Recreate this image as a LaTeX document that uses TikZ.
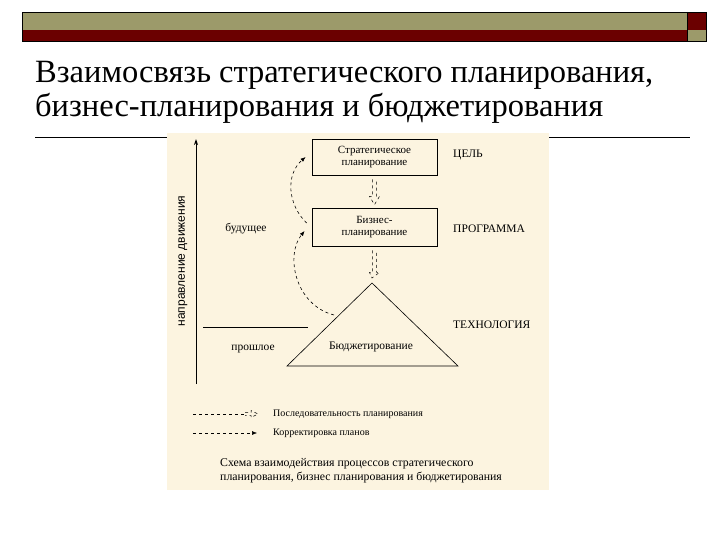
\documentclass[tikz,border=0pt]{standalone}
\usepackage{fontspec}
\setmainfont{Liberation Serif}
\newfontfamily\axisfont{Liberation Sans}
\usetikzlibrary{arrows.meta,calc}
\definecolor{olivebar}{HTML}{9C9A6A}
\definecolor{darkred}{HTML}{6B0000}
\definecolor{beige}{HTML}{FCF4E0}
\tikzset{
  boxnode/.style={draw,line width=0.8pt,minimum width=125pt,align=center,font=\fontsize{11}{12}\selectfont,inner sep=2pt},
  labtext/.style={font=\fontsize{11.5}{12}\selectfont,inner sep=0pt},
  legtext/.style={font=\fontsize{10}{11}\selectfont,anchor=west,inner sep=0pt},
  corr/.style={dashed,line width=0.6pt,-{Latex[length=5pt,width=4pt]}},
  blockarrow/.style={dashed,line width=0.5pt},
}
\begin{document}
\begin{tikzpicture}[x=1pt,y=-1pt]
\useasboundingbox (0,0) rectangle (720,540);
\fill[white] (0,0) rectangle (720,540);
% header bar
\fill[olivebar] (22,12) rectangle (687,30);
\fill[darkred] (22,30) rectangle (687,41);
\fill[darkred] (687,12) rectangle (706,30);
\fill[olivebar] (687,30) rectangle (706,41);
\draw[line width=0.6pt] (22,12) rectangle (706,41);
\draw[line width=0.6pt] (687,12) -- (687,41);
% title
\node[anchor=west,inner sep=0pt,font=\fontsize{32.5}{36}\selectfont] (t1) at (35,75) {Взаимосвязь стратегического планирования,};
\node[anchor=west,inner sep=0pt,font=\fontsize{32.5}{36}\selectfont] (t2) at (35,108) {бизнес-планирования и бюджетирования};
\draw[line width=0.7pt] (35,137) -- (690,137);
% diagram background
\fill[beige] (167,133) rectangle (549,490);
% axis
\coordinate (ax0) at (196,384);
\coordinate (ax1) at (196,139);
\draw[line width=1pt,-{Stealth[length=6pt,width=4pt]}] (ax0) -- (ax1);
\node[rotate=90,inner sep=0pt,font=\axisfont\fontsize{12}{12}\selectfont] (axl) at (183,261) {направление движения};
% boxes
\node[boxnode,minimum height=36pt] (s) at (374.5,157) {Стратегическое\\планирование};
\node[boxnode,minimum height=38pt] (b) at (374.5,227) {Бизнес-\\планирование};
% triangle
\coordinate (ta) at (372,283);
\coordinate (tl) at (287,366);
\coordinate (tr) at (458,366);
\draw[line width=0.6pt] (ta) -- (tl) -- (tr) -- cycle;
\node[labtext] (bud) at (371,347) {Бюджетирование};
% side labels
\node[labtext,anchor=west] (goal) at (453,155) {ЦЕЛЬ};
\node[labtext,anchor=west] (prog) at (453,229) {ПРОГРАММА};
\node[labtext,anchor=west] (tech) at (453,325) {ТЕХНОЛОГИЯ};
\node[labtext] (fut) at (246,229) {будущее};
\node[labtext] (past) at (253,349) {прошлое};
\coordinate (hl0) at (203,327);
\coordinate (hl1) at (308,327);
\draw[line width=0.8pt] (hl0) -- (hl1);
% planning sequence block arrows
\draw[blockarrow] ($(s.south)+(-2,4)$) -- ($(s.south)+(-2,21)$) -- ($(s.south)+(-5,21)$) -- ($(b.north)+(0,-3)$) -- ($(s.south)+(5,21)$) -- ($(s.south)+(2,21)$) -- ($(s.south)+(2,4)$);
\draw[blockarrow] ($(b.south)+(-2,4)$) -- ($(b.south)+(-2,26)$) -- ($(b.south)+(-5,26)$) -- ($(ta)+(0,-5)$) -- ($(b.south)+(5,26)$) -- ($(b.south)+(2,26)$) -- ($(b.south)+(2,4)$);
% correction arrows
\coordinate (c1) at (334,315);
\draw[corr] (c1) .. controls (295,305) and (285,255) .. ($(b.west)+(-7,4)$);
\draw[corr] ($(b.west)+(-5,-4)$) .. controls (288,205) and (285,175) .. ($(s.west)+(-6,0)$);
% legend
\coordinate (l1a) at (193,414);
\coordinate (l1b) at (245,414);
\draw[dashed,line width=0.5pt] (l1a) -- (l1b);
\draw[blockarrow] ($(l1b)+(0,-1.5)$) -- ($(l1b)+(6,-1.5)$) -- ($(l1b)+(6,-3.5)$) -- ($(l1b)+(13,0)$) -- ($(l1b)+(6,3.5)$) -- ($(l1b)+(6,1.5)$) -- ($(l1b)+(0,1.5)$);
\node[legtext] (lt1) at (273,414) {Последовательность планирования};
\coordinate (l2a) at (193,433);
\coordinate (l2b) at (257,433);
\draw[dashed,line width=0.5pt,-{Latex[length=5pt,width=4pt]}] (l2a) -- (l2b);
\node[legtext] (lt2) at (273,433) {Корректировка планов};
% caption
\node[anchor=north west,align=left,inner sep=0pt,font=\fontsize{11.8}{14}\selectfont] (cap) at (220,458) {Схема взаимодействия процессов стратегического\\планирования, бизнес планирования и бюджетирования};
\end{tikzpicture}
\end{document}
